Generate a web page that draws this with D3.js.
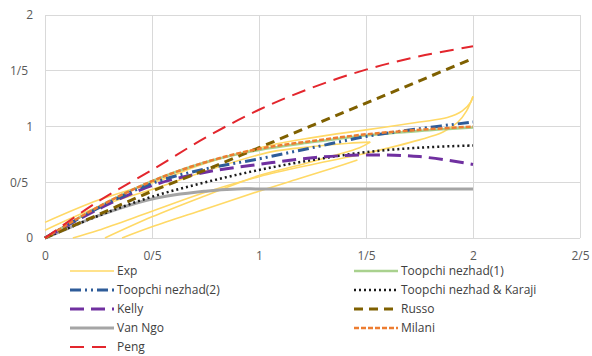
<!DOCTYPE html>
<html>
<head>
<meta charset="utf-8">
<script src="https://cdn.jsdelivr.net/npm/d3@7/dist/d3.min.js"></script>
<style>
  html, body { margin: 0; padding: 0; background: #fff; }
  svg text { font-family: "Open Sans", "Noto Sans", sans-serif; }
</style>
</head>
<body>
<svg id="chart" width="592" height="356"></svg>
<script>
// Axis ticks and their labels (Persian decimal separator shown as "/")
const xTicks = [0, 0.5, 1, 1.5, 2, 2.5];
const xTickLabels = ["0", "0/5", "1", "1/5", "2", "2/5"];
const yTicks = [0, 0.5, 1, 1.5, 2];
const yTickLabels = ["0", "0/5", "1", "1/5", "2"];

// Experimental curves (loading and unloading branches), [x, y]
const expLoad1 = [[0,0.14],[0.25,0.34],[0.54,0.52],[0.75,0.67],[1.05,0.83],[1.25,0.9],[1.5,0.97],[1.75,1.04],[1.88,1.08],[1.95,1.14],[1.99,1.22],[2.0,1.27]];
const expUnload1 = [[2.0,1.27],[1.97,1.14],[1.93,1.04],[1.86,0.95],[1.75,0.88],[1.5,0.76],[1.25,0.66],[1.0,0.55],[0.75,0.41],[0.5,0.24],[0.25,0.07],[0.13,0]];
const expLoad2 = [[0,0.07],[0.25,0.28],[0.54,0.46],[0.75,0.6],[1.05,0.77],[1.25,0.82],[1.42,0.85],[1.52,0.86]];
const expUnload2 = [[1.52,0.86],[1.47,0.81],[1.35,0.74],[1.2,0.66],[1.0,0.56],[0.75,0.38],[0.5,0.19],[0.28,0]];
const expCurve3 = [[0.36,0],[0.5,0.1],[0.75,0.26],[1.0,0.42],[1.2,0.54],[1.35,0.63],[1.46,0.7]];

// Model predictions
const modelX = [0, 0.25, 0.5, 0.75, 1, 1.25, 1.5, 1.75, 2];
const toopchi1 = [0, 0.28, 0.51, 0.68, 0.79, 0.86, 0.92, 0.96, 0.99];
const toopchi2 = [0, 0.27, 0.49, 0.62, 0.71, 0.81, 0.91, 0.98, 1.04];
const toopchiKaraji = [0, 0.2, 0.37, 0.5, 0.61, 0.7, 0.77, 0.81, 0.83];
const kelly = [0, 0.26, 0.47, 0.59, 0.66, 0.72, 0.745, 0.73, 0.66];
const russo = [0, 0.21, 0.42, 0.61, 0.81, 1.01, 1.21, 1.41, 1.61];
const milani = [0, 0.28, 0.51, 0.68, 0.8, 0.87, 0.93, 0.97, 1.0];
const pengY = [0, 0.33, 0.61, 0.9, 1.15, 1.35, 1.51, 1.63, 1.72];
const vanNgoX = [0, 0.1, 0.25, 0.5, 0.75, 0.9, 1, 1.5, 2];
const vanNgo = [0, 0.08, 0.2, 0.35, 0.42, 0.44, 0.44, 0.44, 0.44];

const svg = d3.select("#chart");
const x = d3.scaleLinear().domain([0, 2.5]).range([45, 580]);
const y = d3.scaleLinear().domain([0, 2]).range([238, 15]);

// Gridlines
svg.append("g").selectAll("line.v").data(xTicks).join("line")
  .attr("x1", d => x(d)).attr("x2", d => x(d))
  .attr("y1", y(0)).attr("y2", y(2))
  .attr("stroke", "#d9d9d9").attr("stroke-width", 1).attr("shape-rendering", "crispEdges");
svg.append("g").selectAll("line.h").data(yTicks).join("line")
  .attr("x1", x(0)).attr("x2", x(2.5))
  .attr("y1", d => y(d)).attr("y2", d => y(d))
  .attr("stroke", "#d9d9d9").attr("stroke-width", 1).attr("shape-rendering", "crispEdges");

// Axes (labels only)
const xAxis = svg.append("g").attr("transform", `translate(0,${y(0)})`)
  .call(d3.axisBottom(x).tickValues(xTicks).tickSize(0).tickPadding(13)
    .tickFormat((d, i) => xTickLabels[i]));
const yAxis = svg.append("g").attr("transform", `translate(33,0)`)
  .call(d3.axisLeft(y).tickValues(yTicks).tickSize(0).tickPadding(0)
    .tickFormat((d, i) => yTickLabels[i]));
[xAxis, yAxis].forEach(g => {
  g.select(".domain").remove();
  g.selectAll("text").attr("fill", "#595959").style("font-size", "12px")
    .style("font-family", "'Open Sans', 'Noto Sans', sans-serif");
});
yAxis.selectAll("text").attr("dx", (d, i) => yTickLabels[i].includes("/") ? -5 : 0);

const line = d3.line().x(d => x(d[0])).y(d => y(d[1])).curve(d3.curveCatmullRom.alpha(0.5));
const plot = svg.append("g");

// Experimental curves
[expLoad1, expUnload1, expLoad2, expUnload2, expCurve3].forEach(c => {
  plot.append("path").attr("d", line(c)).attr("fill", "none")
    .attr("stroke", "#ffd966").attr("stroke-width", 1.6);
});

const series = [
  { name: "Toopchi nezhad(1)", xs: modelX, ys: toopchi1, color: "#a9d18e", width: 2.5, dash: null },
  { name: "Van Ngo", xs: vanNgoX, ys: vanNgo, color: "#a5a5a5", width: 3, dash: null },
  { name: "Toopchi nezhad & Karaji", xs: modelX, ys: toopchiKaraji, color: "#1a1a1a", width: 2.5, dash: "2,3" },
  { name: "Kelly", xs: modelX, ys: kelly, color: "#7030a0", width: 3, dash: "14,7" },
  { name: "Toopchi nezhad(2)", xs: modelX, ys: toopchi2, color: "#2e5c99", width: 3, dash: "11,4,2,4,2,4" },
  { name: "Russo", xs: modelX, ys: russo, color: "#7f6000", width: 3, dash: "9,6" },
  { name: "Milani", xs: modelX, ys: milani, color: "#ed7d31", width: 2.5, dash: "5,2" },
  { name: "Peng", xs: modelX, ys: pengY, color: "#e3262d", width: 2, dash: "14,8" }
];
series.forEach(s => {
  const pts = s.xs.map((v, i) => [v, s.ys[i]]);
  plot.append("path").attr("d", line(pts)).attr("fill", "none")
    .attr("stroke", s.color).attr("stroke-width", s.width)
    .attr("stroke-dasharray", s.dash);
});

// Legend
const byName = Object.fromEntries(series.map(s => [s.name, s]));
const legendItems = [
  [{ name: "Exp", color: "#ffd966", width: 1.6, dash: null }, byName["Toopchi nezhad(1)"]],
  [byName["Toopchi nezhad(2)"], byName["Toopchi nezhad & Karaji"]],
  [byName["Kelly"], byName["Russo"]],
  [byName["Van Ngo"], byName["Milani"]],
  [byName["Peng"], null]
];
const colX = [70, 354];
const legend = svg.append("g");
legendItems.forEach((row, r) => {
  const ly = 271 + r * 19;
  row.forEach((s, c) => {
    if (!s) return;
    legend.append("line").attr("x1", colX[c]).attr("x2", colX[c] + 44)
      .attr("y1", ly).attr("y2", ly)
      .attr("stroke", s.color).attr("stroke-width", s.width)
      .attr("stroke-dasharray", s.dash);
    legend.append("text").attr("x", colX[c] + 47).attr("y", ly).attr("dy", "0.35em")
      .attr("fill", "#404040").style("font-size", "12px").text(s.name);
  });
});
</script>
</body>
</html>
